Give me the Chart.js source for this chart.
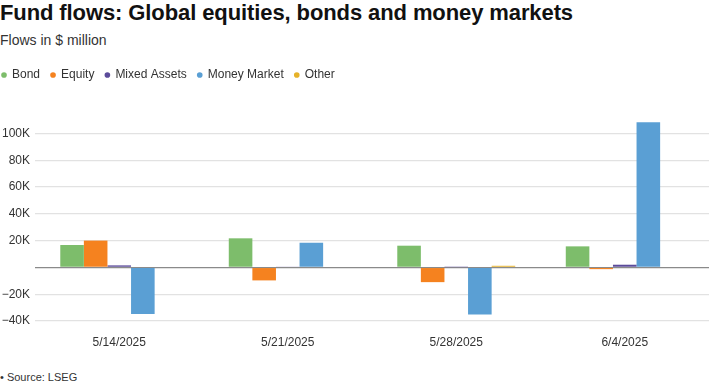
<!DOCTYPE html>
<html lang="en">
<head>
    <meta charset="UTF-8">
    <title>Fund flows</title>
    <script src="https://cdn.jsdelivr.net/npm/chart.js"></script>
    <style>
        body { margin: 0; width: 709px; height: 384px; position: relative; overflow: hidden; background: #fff; font-family: 'Liberation Sans', Arial, sans-serif; color: #222; }
        #title { position: absolute; left: 0; top: 0; font-size: 22px; font-weight: bold; color: #111; letter-spacing: -0.1px; white-space: nowrap; }
        #subtitle { position: absolute; left: 0; top: 32px; font-size: 14px; color: #333; }
        #wrap { position: absolute; left: -9px; top: 58px; width: 718px; height: 291px; }
        #source { position: absolute; left: 0; top: 371px; font-size: 11px; color: #333; }
    </style>
</head>
<body>
    <div id="title">Fund flows: Global equities, bonds and money markets</div>
    <div id="subtitle">Flows in $ million</div>
    <div id="wrap"><canvas id="flowChart"></canvas></div>
    <div id="source">• Source: LSEG</div>

    <script>
        const weeks = ['5/14/2025', '5/21/2025', '5/28/2025', '6/4/2025'];
        const bond = [16700, 21700, 16200, 15700];
        const equity = [20000, -9700, -11000, -1300];
        const mixedAssets = [1500, 400, 200, 2000];
        const moneyMarket = [-34800, 18400, -35200, 108300];
        const other = [0, 0, 1200, 0];
        const yTicks = [-40000, -20000, 0, 20000, 40000, 60000, 80000, 100000];

        // push the plot area down from the legend
        const legendGap = {
            id: 'legendGap',
            beforeInit(chart) {
                const fit = chart.legend.fit;
                chart.legend.fit = function () {
                    fit.bind(chart.legend)();
                    this.height += 29;
                };
            }
        };

        const ctx = document.getElementById('flowChart').getContext('2d');
        const flowChart = new Chart(ctx, {
            type: 'bar',
            data: {
                labels: weeks,
                datasets: [
                    { label: 'Bond', data: bond, backgroundColor: '#7dbd6b' },
                    { label: 'Equity', data: equity, backgroundColor: '#f5821f' },
                    { label: 'Mixed Assets', data: mixedAssets, backgroundColor: '#5b4b9a' },
                    { label: 'Money Market', data: moneyMarket, backgroundColor: '#5a9fd4' },
                    { label: 'Other', data: other, backgroundColor: '#e6b229' }
                ]
            },
            options: {
                responsive: true,
                maintainAspectRatio: false,
                animation: false,
                layout: { padding: 0 },
                datasets: {
                    bar: { categoryPercentage: 0.7, barPercentage: 1.0, borderWidth: 0 }
                },
                plugins: {
                    legend: {
                        position: 'top',
                        align: 'start',
                        labels: {
                            usePointStyle: true,
                            pointStyle: 'circle',
                            boxWidth: 4,
                            boxHeight: 4,
                            padding: 11,
                            color: '#333',
                            font: { family: "'Liberation Sans', Arial, sans-serif", size: 12 }
                        }
                    },
                    tooltip: { enabled: false }
                },
                scales: {
                    x: {
                        grid: { display: false, drawTicks: false },
                        border: { display: false },
                        afterFit(scale) {
                            scale.height = 28;
                        },
                        ticks: {
                            color: '#333',
                            padding: 14,
                            maxRotation: 0,
                            autoSkip: false,
                            font: { family: "'Liberation Sans', Arial, sans-serif", size: 12 }
                        }
                    },
                    y: {
                        min: -40000,
                        max: 110000,
                        afterBuildTicks(scale) {
                            scale.ticks = yTicks.map(v => ({ value: v }));
                        },
                        afterFit(scale) {
                            scale.width = 44;
                        },
                        border: { display: false },
                        grid: {
                            drawTicks: false,
                            color: c => c.tick && c.tick.value === 0 ? '#8a8a8a' : '#e2e2e2',
                            lineWidth: c => c.tick && c.tick.value === 0 ? 1.3 : 1.2
                        },
                        ticks: {
                            padding: 5,
                            color: '#333',
                            autoSkip: false,
                            font: { family: "'Liberation Sans', Arial, sans-serif", size: 12 },
                            callback: v => v === 0 ? '' : (v < 0 ? '\u2212' : '') + Math.abs(v) / 1000 + 'K'
                        }
                    }
                }
            },
            plugins: [legendGap]
        });
    </script>
</body>
</html>
